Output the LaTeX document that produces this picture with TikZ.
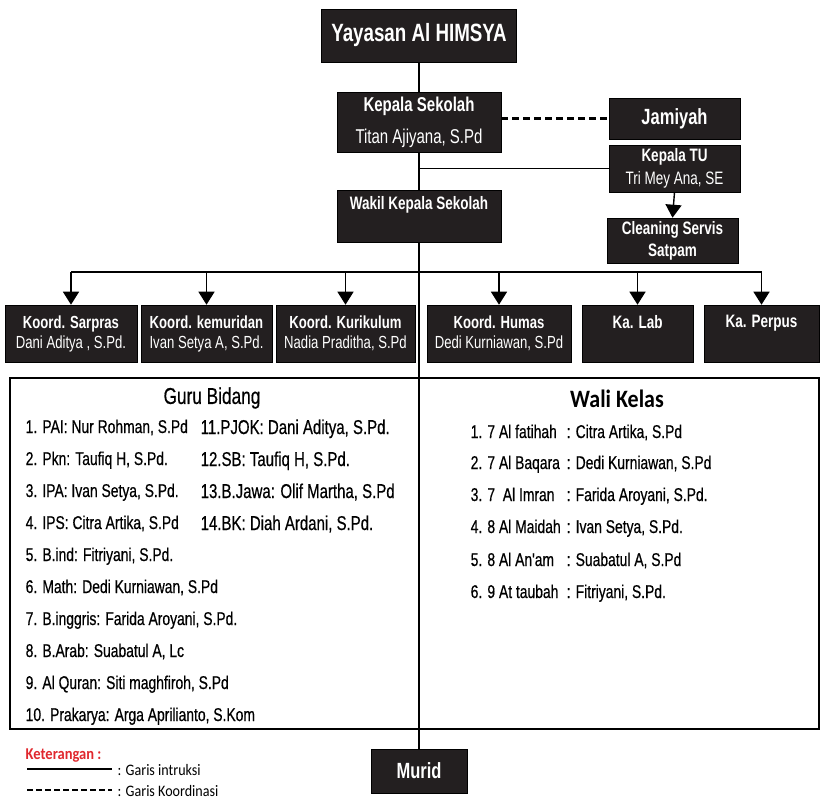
\documentclass[tikz,border=0pt]{standalone}
\usepackage{fontspec}
\setmainfont{Liberation Sans}[FakeStretch=0.75]
\newfontfamily\medfont{Liberation Sans}[FakeStretch=0.75, FakeBold=0.5]
\newfontfamily\calfont{Carlito}[FakeStretch=0.88]
\usetikzlibrary{arrows.meta}
\definecolor{boxfill}{HTML}{231F20}
\definecolor{noteRed}{HTML}{E0282E}
\newcommand{\fs}[2]{\fontsize{#1}{#2}\selectfont}
\tikzset{
  unit/.style={draw=black, line width=0.6pt, fill=boxfill, text=white, inner sep=0pt, align=center},
  item/.style={anchor=base west, inner sep=0pt, font=\medfont\fs{18.5}{22}},
  itemb/.style={anchor=base west, inner sep=0pt, font=\medfont\fs{20}{24}},
  wali/.style={anchor=base west, inner sep=0pt, font=\medfont\fs{18.5}{22}},
  note/.style={anchor=base west, inner sep=0pt, font=\calfont\fs{16}{19}},
}
\begin{document}
\begin{tikzpicture}[x=1pt, y=-1pt, line width=1.4pt, >={Triangle[width=16pt,length=13pt]}]
  \useasboundingbox (0,0) rectangle (821,801);
  %--- Top boxes
  \node[unit, minimum width=195pt, minimum height=53pt, font=\bfseries\fs{25}{30}] (yay) at (419,35.5) {Yayasan Al HIMSYA};
  \node[unit, minimum width=164pt, minimum height=60pt, font=\fs{20}{32}] (ks) at (419,122) {\textbf{Kepala Sekolah}\\Titan Ajiyana, S.Pd};
  \node[unit, minimum width=131pt, minimum height=41pt, font=\bfseries\fs{22}{26}] (jam) at (674.5,118.5) {Jamiyah};
  \node[unit, minimum width=131pt, minimum height=47pt, font=\fs{18}{23}] (tu) at (674.5,168.5) {\textbf{Kepala TU}\\Tri Mey Ana, SE};
  \node[unit, minimum width=164pt, minimum height=52pt, font=\bfseries\fs{18}{22}] (wks) at (419,216) {Wakil Kepala Sekolah\\\phantom{Ag}};
  \node[unit, minimum width=131pt, minimum height=45pt, font=\bfseries\fs{18}{22}] (cs) at (672.5,240.5) {Cleaning Servis\\Satpam};
  %--- Koordinator row
  \node[unit, minimum width=132pt, minimum height=57pt, font=\fs{17.5}{20}] (sar) at (71,333.5) {\textbf{Koord. Sarpras}\\Dani Aditya , S.Pd.};
  \node[unit, minimum width=131pt, minimum height=57pt, font=\fs{17.5}{20}] (kem) at (206.5,333.5) {\textbf{Koord. kemuridan}\\Ivan Setya A, S.Pd.};
  \node[unit, minimum width=139pt, minimum height=57pt, font=\fs{17.5}{20}] (kur) at (345.5,333.5) {\textbf{Koord. Kurikulum}\\Nadia Praditha, S.Pd};
  \node[unit, minimum width=144pt, minimum height=57pt, font=\fs{17.5}{20}] (hum) at (499,333.5) {\textbf{Koord. Humas}\\Dedi Kurniawan, S.Pd};
  \node[unit, minimum width=111pt, minimum height=57pt, font=\bfseries\fs{18}{20}] (lab) at (637.5,333.5) {Ka. Lab\\\phantom{Ag}};
  \node[unit, minimum width=115pt, minimum height=57pt, font=\bfseries\fs{18}{20}] (per) at (761.5,333.5) {Ka. Perpus\\\phantom{Ag}};
  %--- Panel and Murid
  \node[draw, line width=1.4pt, minimum width=809pt, minimum height=351pt, inner sep=0pt] (panel) at (414.5,553.5) {};
  \node[unit, minimum width=96pt, minimum height=44pt, font=\bfseries\fs{22}{26}] (murid) at (419,771) {Murid};
  %--- Lines
  \draw (yay.south) -- (ks.north);
  \draw (ks.south) -- (wks.north);
  \draw (wks.south) -- (murid.north);
  \draw[line width=2.2pt, dash pattern=on 7pt off 4pt] (jam.west -| ks.east) -- (jam.west);
  \draw (tu.west -| ks.south) -- (tu.west);
  \draw[->] (tu.south) -- (cs.north);
  \coordinate (bus) at (419,272);
  \draw (sar.north |- bus) -- (per.north |- bus);
  \draw[->] (sar.north |- bus) -- (sar.north);
  \draw[->] (kem.north |- bus) -- (kem.north);
  \draw[->] (kur.north |- bus) -- (kur.north);
  \draw[->] (hum.north |- bus) -- (hum.north);
  \draw[->] (lab.north |- bus) -- (lab.north);
  \draw[->] (per.north |- bus) -- (per.north);
  %--- Guru Bidang
  \node[inner sep=0pt, font=\medfont\fs{23}{26}] (gb) at (212,398) {Guru Bidang};
  \node[item] (g1) at (25,433) {1. PAI: Nur Rohman, S.Pd};
  \node[item] (g2) at (25,465) {2. Pkn: Taufiq H, S.Pd.};
  \node[item] (g3) at (25,497) {3. IPA: Ivan Setya, S.Pd.};
  \node[item] (g4) at (25,529) {4. IPS: Citra Artika, S.Pd};
  \node[item] (g5) at (25,561) {5. B.ind: Fitriyani, S.Pd.};
  \node[item] (g6) at (25,593) {6. Math: Dedi Kurniawan, S.Pd};
  \node[item] (g7) at (25,625) {7. B.inggris: Farida Aroyani, S.Pd.};
  \node[item] (g8) at (25,657) {8. B.Arab: Suabatul A, Lc};
  \node[item] (g9) at (25,689) {9. Al Quran: Siti maghfiroh, S.Pd};
  \node[item] (g10) at (25,721) {10. Prakarya: Arga Aprilianto, S.Kom};
  \node[itemb] (g11) at (200,434) {11.PJOK: Dani Aditya, S.Pd.};
  \node[itemb] (g12) at (200,466) {12.SB: Taufiq H, S.Pd.};
  \node[itemb] (g13) at (200,498) {13.B.Jawa: Olif Martha, S.Pd};
  \node[itemb] (g14) at (200,530) {14.BK: Diah Ardani, S.Pd.};
  %--- Wali Kelas
  \node[inner sep=0pt, font=\calfont\bfseries\fs{25}{28}] (wk) at (617,399) {Wali Kelas};
  \node[wali] (w1) at (470,438) {1. 7 Al fatihah};
  \node[wali] (w2) at (470,469) {2. 7 Al Baqara};
  \node[wali] (w3) at (470,501) {3. 7\ \ Al Imran};
  \node[wali] (w4) at (470,533) {4. 8 Al Maidah};
  \node[wali] (w5) at (470,566) {5. 8 Al An'am};
  \node[wali] (w6) at (470,598) {6. 9 At taubah};
  \node[wali] (n1) at (566,438) {: Citra Artika, S.Pd};
  \node[wali] (n2) at (566,469) {: Dedi Kurniawan, S.Pd};
  \node[wali] (n3) at (566,501) {: Farida Aroyani, S.Pd.};
  \node[wali] (n4) at (566,533) {: Ivan Setya, S.Pd.};
  \node[wali] (n5) at (566,566) {: Suabatul A, S.Pd};
  \node[wali] (n6) at (566,598) {: Fitriyani, S.Pd.};
  %--- Keterangan
  \node[note, text=noteRed, font=\calfont\bfseries\fs{16.5}{19}] (ket) at (25,759) {Keterangan :};
  \coordinate (s1) at (27,769);
  \coordinate (s2) at (112,769);
  \draw[line width=1.3pt] (s1) -- (s2);
  \node[note] (gi) at (117,775) {: Garis intruksi};
  \coordinate (d1) at (27,790);
  \coordinate (d2) at (112,790);
  \draw[line width=1.3pt, dash pattern=on 6pt off 3pt] (d1) -- (d2);
  \node[note] (gk) at (117,796) {: Garis Koordinasi};
\end{tikzpicture}
\end{document}
